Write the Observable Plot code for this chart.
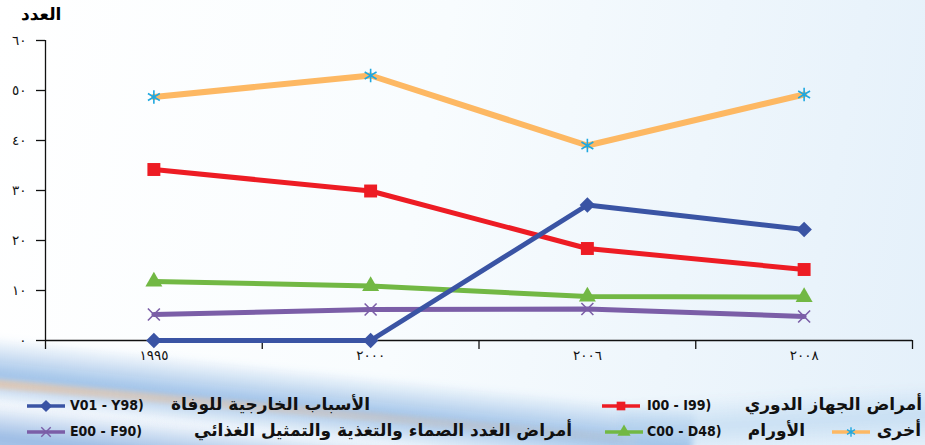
<!DOCTYPE html>
<html><head><meta charset="utf-8">
<script src="https://cdn.jsdelivr.net/npm/d3@7"></script>
<script src="https://cdn.jsdelivr.net/npm/@observablehq/plot@0.6"></script>
<style>
html,body{margin:0;padding:0;}
body{width:925px;height:445px;overflow:hidden;position:relative;font-family:"DejaVu Sans",sans-serif;
background:linear-gradient(100deg,#ffffff 0%,#f8fcfe 45%,#e4f0fa 100%);}
.sw{position:absolute;pointer-events:none;z-index:0;}
.sw1{left:-60px;top:330px;width:760px;height:70px;transform:rotate(6deg);transform-origin:left top;
background:linear-gradient(to bottom,rgba(170,200,235,0) 0%,rgba(130,175,225,.75) 55%,rgba(190,215,240,0) 100%);filter:blur(3px);}
.sw2{left:-60px;top:395px;width:560px;height:80px;transform:rotate(6deg);transform-origin:left top;
background:linear-gradient(to bottom,rgba(120,165,220,0) 0%,rgba(115,160,218,.7) 45%,rgba(140,180,225,.4) 100%);filter:blur(3px);}
.sw3{left:-20px;top:378px;width:660px;height:9px;transform:rotate(5deg);transform-origin:left top;
background:linear-gradient(to right,rgba(245,190,140,.55),rgba(245,200,160,.1));filter:blur(2px);}
.sw4{left:620px;top:392px;width:340px;height:60px;transform:rotate(-3deg);
background:linear-gradient(to bottom,rgba(200,225,245,0),rgba(175,208,238,.55),rgba(200,225,245,0));filter:blur(4px);}
#title{position:absolute;left:21px;top:4px;font-weight:bold;font-size:17px;z-index:2;color:#000;}
#chart{position:absolute;left:0;top:28px;z-index:1;}
.lg{position:absolute;z-index:2;}
.lt{position:absolute;z-index:2;direction:rtl;white-space:nowrap;font-weight:bold;font-size:17px;color:#111;}
.lc{position:absolute;z-index:2;direction:ltr;white-space:nowrap;font-weight:bold;font-size:14px;color:#111;font-family:"DejaVu Sans Condensed","DejaVu Sans",sans-serif;}
</style>
</head><body>
<div class="sw sw1"></div><div class="sw sw2"></div><div class="sw sw3"></div><div class="sw sw4"></div>
<div id="title">العدد</div>
<div id="chart"></div>
<div id="legend"></div>
<script>
const years = ["1995", "2000", "2006", "2008"];
const xTickLabels = ["١٩٩٥", "٢٠٠٠", "٢٠٠٦", "٢٠٠٨"];
const yTicks = [0, 10, 20, 30, 40, 50, 60];
const yTickLabels = ["٠", "١٠", "٢٠", "٣٠", "٤٠", "٥٠", "٦٠"];

const seriesNames = [
  "أخرى",
  "أمراض الجهاز الدوري",
  "الأورام",
  "أمراض الغدد الصماء والتغذية والتمثيل الغذائي",
  "الأسباب الخارجية للوفاة"
];
const seriesCodes = ["", "I00 - I99)", "C00 - D48)", "E00 - F90)", "V01 - Y98)"];
const others      = [48.7, 53.0, 39.0, 49.2];
const circulatory = [34.2, 29.9, 18.4, 14.2];
const neoplasms   = [11.8, 10.9, 8.8, 8.7];
const endocrine   = [5.2, 6.2, 6.3, 4.8];
const external    = [0, 0, 27.1, 22.2];

const values = [others, circulatory, neoplasms, endocrine, external];
const lineColors = ["#FDB863", "#ED1C24", "#72B844", "#7B5EA7", "#3A54A4"];
const markColors = ["#1FA8E0", "#ED1C24", "#72B844", "#7B5EA7", "#3A54A4"];

const rhombus = {draw(ctx, size) { const r = Math.sqrt(size / 2);
  ctx.moveTo(0, -r); ctx.lineTo(r, 0); ctx.lineTo(0, r); ctx.lineTo(-r, 0); ctx.closePath(); }};
const symbols = ["asterisk", "square", "triangle", "times", rhombus];
const strokeSymbol = [true, false, false, true, false];
const radii = [6.5, 7.3, 6.3, 5.5, 6.2];
const widths = [6, 5, 5, 5, 5];

const idx = years.map((_, i) => i);
const boundaries = [-0.5, 0.5, 1.5, 2.5, 3.5];

const marks = [
  Plot.ruleY([0], {x1: -0.5, x2: 3.5, stroke: "#111", strokeWidth: 1.3}),
  Plot.ruleX([-0.5], {y1: 0, y2: 60, stroke: "#111", strokeWidth: 1.3}),
  Plot.axisX(boundaries, {tickSize: 9, tickFormat: () => "", stroke: "#111", strokeWidth: 1.3, label: null}),
  Plot.axisX(idx, {tickSize: 0, tickPadding: 10, tickFormat: d => xTickLabels[d], fontSize: 13.5, fill: "#111", fontFamily: "DejaVu Sans", label: null}),
  Plot.axisY(yTicks, {tickSize: 9, tickPadding: 10, tickFormat: d => yTickLabels[yTicks.indexOf(d)], fontSize: 13.5, stroke: "#111", strokeWidth: 1.3, fill: "#111", fontFamily: "DejaVu Sans", label: null})
];
values.forEach((vals, s) => {
  const rows = vals.map((v, i) => ({x: i, y: v}));
  marks.push(Plot.line(rows, {x: "x", y: "y", stroke: lineColors[s], strokeWidth: widths[s]}));
  marks.push(Plot.dot(rows, strokeSymbol[s]
    ? {x: "x", y: "y", symbol: symbols[s], r: radii[s], stroke: markColors[s], strokeWidth: 1.6}
    : {x: "x", y: "y", symbol: symbols[s], r: radii[s], fill: markColors[s], stroke: "none"}));
});

const chart = Plot.plot({
  width: 925,
  height: 360,
  marginLeft: 45,
  marginRight: 13,
  marginTop: 12,
  marginBottom: 48,
  style: {background: "transparent", fontFamily: "DejaVu Sans"},
  x: {type: "linear", domain: [-0.5, 3.5], axis: null},
  y: {domain: [0, 60], axis: null},
  marks
});
document.getElementById("chart").appendChild(chart);

// legend layout
const legendLayout = [
  {s: 1, sw: 600, y: 406, right: 3, code: 647},
  {s: 4, sw: 25, y: 406, right: 555, code: 70},
  {s: 0, sw: 830, y: 432, right: 4, code: null},
  {s: 2, sw: 603, y: 432, right: 120, code: 647},
  {s: 3, sw: 25, y: 432, right: 353, code: 70}
];
const symMap = [d3.symbolAsterisk, d3.symbolSquare, d3.symbolTriangle, d3.symbolTimes, rhombus];
const leg = document.getElementById("legend");
legendLayout.forEach(L => {
  const s = L.s;
  const svg = d3.create("svg").attr("class", "lg").attr("width", 42).attr("height", 16)
    .style("left", L.sw + "px").style("top", (L.y - 8) + "px");
  svg.append("line").attr("x1", 2).attr("x2", 40).attr("y1", 8).attr("y2", 8)
    .attr("stroke", lineColors[s]).attr("stroke-width", 3.5);
  const p = svg.append("path").attr("transform", "translate(21,8)")
    .attr("d", d3.symbol(symMap[s], strokeSymbol[s] ? 60 : 75)());
  if (strokeSymbol[s]) p.attr("fill", "none").attr("stroke", markColors[s]).attr("stroke-width", 1.4);
  else p.attr("fill", markColors[s]);
  leg.appendChild(svg.node());
  const t = document.createElement("div");
  t.className = "lt";
  t.textContent = seriesNames[s];
  t.style.right = L.right + "px";
  t.style.top = (L.y - 12) + "px";
  leg.appendChild(t);
  if (L.code !== null) {
    const c = document.createElement("div");
    c.className = "lc";
    c.textContent = seriesCodes[s];
    c.style.left = L.code + "px";
    c.style.top = (L.y - 9) + "px";
    leg.appendChild(c);
  }
});
</script>
</body></html>
